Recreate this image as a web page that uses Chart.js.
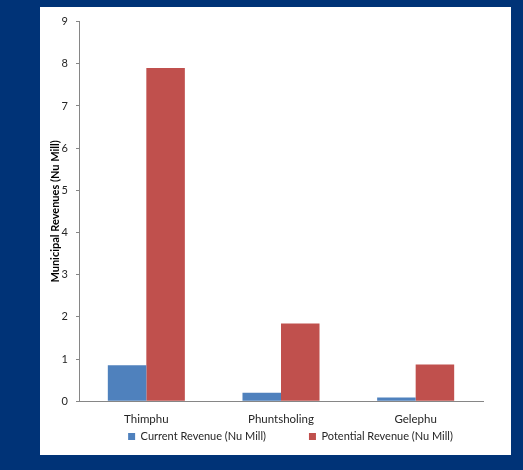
<!DOCTYPE html>
<html>
<head>
<meta charset="utf-8">
<script src="https://cdn.jsdelivr.net/npm/chart.js@4/dist/chart.umd.min.js"></script>
<style>
  html, body { margin: 0; padding: 0; }
  body { width: 523px; height: 470px; background: #003377; position: relative; overflow: hidden; }
  #panel { position: absolute; left: 40px; top: 7px; width: 471px; height: 448px; background: #ffffff; }
  #chart { display: block; }
</style>
</head>
<body>
<div id="panel"><canvas id="chart" width="471" height="448"></canvas></div>
<script>
// Municipal revenues by town (Nu Mill)
const categories = ['Thimphu', 'Phuntsholing', 'Gelephu'];
const currentRevenue = [0.85, 0.2, 0.09];
const potentialRevenue = [7.9, 1.84, 0.87];
const seriesNames = ['Current Revenue (Nu Mill)', 'Potential Revenue (Nu Mill)'];
const yTicks = [0, 1, 2, 3, 4, 5, 6, 7, 8, 9];

const FONT = 'Lato, "Open Sans", sans-serif';
const AXIS_GREY = '#868686';
const TEXT = '#262626';

// Keeps the legend row in a narrow band under the category labels while
// allowing a wide gap between the two legend entries.
const legendBand = {
  id: 'legendBand',
  afterInit(chart) {
    const legend = chart.legend;
    const fit = legend.fit;
    legend.fit = function () {
      fit.call(this);
      this.height = 12;
    };
  },
  afterLayout(chart) {
    const legend = chart.legend;
    const pad = legend.options.labels.padding;
    const rowTop = legend.bottom - 18;
    legend.top = rowTop - pad;
    const shift = 29;
    legend.left += shift;
    legend.right += shift;
  }
};

new Chart(document.getElementById('chart'), {
  type: 'bar',
  data: {
    labels: categories,
    datasets: [
      {
        label: seriesNames[0],
        data: currentRevenue,
        backgroundColor: '#4F81BD',
        borderWidth: 0,
        categoryPercentage: 0.572,
        barPercentage: 1.0
      },
      {
        label: seriesNames[1],
        data: potentialRevenue,
        backgroundColor: '#C0504D',
        borderWidth: 0,
        categoryPercentage: 0.572,
        barPercentage: 1.0
      }
    ]
  },
  options: {
    responsive: false,
    devicePixelRatio: 1,
    animation: false,
    layout: { padding: { top: 13, right: 28, bottom: 6, left: 0 } },
    plugins: {
      tooltip: { enabled: false },
      legend: {
        position: 'bottom',
        labels: {
          boxWidth: 7,
          boxHeight: 7,
          padding: 43,
          color: TEXT,
          font: { family: FONT, size: 11 }
        }
      }
    },
    scales: {
      x: {
        grid: { display: false, drawTicks: false },
        border: { display: true, color: AXIS_GREY, width: 1 },
        ticks: {
          color: TEXT,
          padding: 11,
          font: { family: FONT, size: 11.5 }
        }
      },
      y: {
        min: 0,
        max: 9,
        afterFit(scale) { scale.width = 39; },
        afterBuildTicks(scale) { scale.ticks = yTicks.map(v => ({ value: v })); },
        grid: {
          drawOnChartArea: false,
          drawTicks: true,
          tickLength: 3,
          color: AXIS_GREY
        },
        border: { display: true, color: AXIS_GREY, width: 1 },
        ticks: {
          color: TEXT,
          padding: 8,
          font: { family: FONT, size: 11 }
        },
        title: {
          display: true,
          text: 'Municipal Revenues (Nu Mill)',
          color: '#000000',
          padding: { top: 9, bottom: 0 },
          font: { family: FONT, size: 11, weight: 'bold' }
        }
      }
    }
  },
  plugins: [legendBand]
});
</script>
</body>
</html>
